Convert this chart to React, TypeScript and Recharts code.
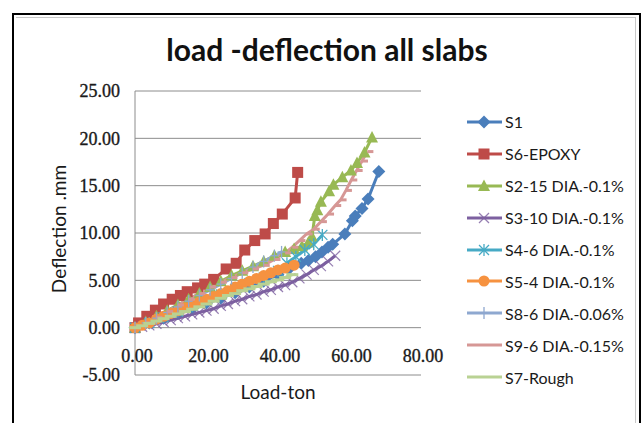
import React from 'react';
import { LineChart, Line, XAxis, YAxis, CartesianGrid, Legend } from 'recharts';

// ---- data (load in ton, deflection in mm) ----
const X_TICKS = [0, 20, 40, 60, 80];
const Y_TICKS = [-5, 0, 5, 10, 15, 20, 25];

const S1_LOAD = [0, 4, 8, 12, 16, 20, 24, 28, 32, 36, 40, 43, 46.5, 48.5, 50.5, 52.3, 54, 55.3, 58.7, 60.8, 61.6, 63.5, 65.2, 68.2];
const S1_DEFL = [0, 0.5, 1.0, 1.5, 2.0, 2.6, 3.1, 3.7, 4.3, 4.9, 5.6, 6.2, 6.8, 7.1, 7.5, 8.0, 8.5, 8.8, 9.9, 11.3, 11.8, 12.6, 13.6, 16.5];

const S6_LOAD = [0, 1, 3.3, 5.7, 8, 10.4, 12.7, 14.6, 17.5, 19.5, 22, 25.5, 28.3, 30.7, 33.5, 36.4, 38.7, 41.2, 44.8, 45.5];
const S6_DEFL = [0, 0.5, 1.2, 1.85, 2.5, 3.0, 3.4, 3.8, 4.2, 4.6, 5.1, 6.2, 6.8, 8.2, 9.2, 9.9, 11.0, 12.0, 13.7, 16.4];

const S2_LOAD = [0, 3, 6, 9, 12, 15, 18, 21, 24, 27, 30, 33, 36, 39, 42, 44.5, 46.7, 48.5, 49.5, 50.3, 51, 52, 54.3, 55.5, 58, 60.4, 62.1, 64.2, 66.3];
const S2_DEFL = [0, 0.6, 1.2, 1.8, 2.4, 3.0, 3.6, 4.3, 4.9, 5.5, 6.0, 6.5, 7.0, 7.6, 8.0, 8.3, 8.6, 9.0, 9.6, 11.8, 12.4, 13.3, 14.4, 15.1, 15.9, 16.6, 17.4, 18.5, 20.1];

const S3_LOAD = [0, 2, 4, 6, 8, 10, 12, 14, 16, 18, 20, 22, 24, 26, 28, 30, 32, 34, 36, 38, 40, 42, 44, 46, 48, 50, 52, 54, 56];
const S3_DEFL = [0, 0.1, 0.25, 0.4, 0.6, 0.8, 1.0, 1.2, 1.4, 1.6, 1.8, 2.0, 2.3, 2.5, 2.8, 3.0, 3.3, 3.5, 3.8, 4.0, 4.3, 4.5, 4.8, 5.2, 5.6, 6.1, 6.5, 7.0, 7.6];

const S4_LOAD = [0, 4, 8, 12, 16, 20, 24, 28, 32, 36, 40, 42.5, 45, 47.5, 50, 52.4];
const S4_DEFL = [0, 0.5, 1.1, 1.7, 2.3, 2.9, 3.5, 4.1, 4.7, 5.3, 6.0, 6.8, 7.5, 8.2, 8.8, 9.8];

const S5_LOAD = [0, 2, 4, 6, 8, 10, 12, 14, 16, 18, 20, 22, 24, 26, 28, 30, 32, 34, 36, 38, 40, 42, 44.5];
const S5_DEFL = [0, 0.25, 0.5, 0.9, 1.2, 1.5, 1.8, 2.1, 2.4, 2.7, 3.0, 3.3, 3.6, 3.9, 4.3, 4.6, 4.9, 5.2, 5.5, 5.8, 6.1, 6.3, 6.6];

const S8_LOAD = [0, 3, 6, 9, 12, 15, 18, 21, 24, 27, 30, 33, 36, 39, 41];
const S8_DEFL = [0, 0.5, 1.0, 1.6, 2.2, 2.8, 3.4, 4.0, 4.6, 5.2, 5.8, 6.4, 7.0, 7.6, 8.0];

const S9_LOAD = [0, 3, 6, 9, 12, 15, 18, 21, 24, 27, 30, 33, 36, 39, 42, 44, 46, 48, 50, 52, 54, 56, 57.5, 59, 60.5, 62, 63.5, 65];
const S9_DEFL = [0, 0.5, 1.1, 1.7, 2.4, 3.0, 3.6, 4.3, 4.8, 5.3, 5.8, 6.2, 6.6, 7.2, 7.9, 8.5, 9.2, 9.9, 10.4, 11.2, 12.0, 12.9, 13.5, 14.5, 15.6, 16.6, 17.6, 18.6];

const S7_LOAD = [0, 2, 4, 6, 8, 10, 12, 14, 16, 18, 20, 22, 24, 26, 28, 30, 32, 34, 36, 38, 40, 42, 44];
const S7_DEFL = [0, 0.2, 0.45, 0.7, 0.95, 1.2, 1.45, 1.7, 1.95, 2.2, 2.5, 2.8, 3.1, 3.4, 3.6, 3.9, 4.1, 4.35, 4.6, 4.85, 5.05, 5.3, 5.6];

type Shape = 'diamond' | 'square' | 'triangle' | 'x' | 'star' | 'circle' | 'plus' | 'dash' | 'longdash';

const zip = (xs: number[], ys: number[]) => xs.map((x, i) => ({ x, y: ys[i] }));

const SERIES: { name: string; color: string; shape: Shape; data: { x: number; y: number }[] }[] = [
  { name: 'S1', color: '#4A7EBB', shape: 'diamond', data: zip(S1_LOAD, S1_DEFL) },
  { name: 'S6-EPOXY', color: '#BE4B48', shape: 'square', data: zip(S6_LOAD, S6_DEFL) },
  { name: 'S2-15 DIA.-0.1%', color: '#98B954', shape: 'triangle', data: zip(S2_LOAD, S2_DEFL) },
  { name: 'S3-10 DIA.-0.1%', color: '#7D60A0', shape: 'x', data: zip(S3_LOAD, S3_DEFL) },
  { name: 'S4-6 DIA.-0.1%', color: '#46AAC5', shape: 'star', data: zip(S4_LOAD, S4_DEFL) },
  { name: 'S5-4 DIA.-0.1%', color: '#F69240', shape: 'circle', data: zip(S5_LOAD, S5_DEFL) },
  { name: 'S8-6 DIA.-0.06%', color: '#8EA8D0', shape: 'plus', data: zip(S8_LOAD, S8_DEFL) },
  { name: 'S9-6 DIA.-0.15%', color: '#D69795', shape: 'dash', data: zip(S9_LOAD, S9_DEFL) },
  { name: 'S7-Rough', color: '#B9D293', shape: 'longdash', data: zip(S7_LOAD, S7_DEFL) },
];

function Marker({ shape, color, cx, cy }: { shape: Shape; color: string; cx: number; cy: number }) {
  switch (shape) {
    case 'diamond':
      return <path d={`M${cx},${cy - 6.5}L${cx + 6.5},${cy}L${cx},${cy + 6.5}L${cx - 6.5},${cy}Z`} fill={color} />;
    case 'square':
      return <rect x={cx - 5.5} y={cy - 5.5} width={11} height={11} fill={color} />;
    case 'triangle':
      return <path d={`M${cx},${cy - 6.5}L${cx + 6},${cy + 5}L${cx - 6},${cy + 5}Z`} fill={color} />;
    case 'x':
      return (
        <g stroke={color} strokeWidth={1.2} opacity={0.8}>
          <line x1={cx - 5} y1={cy - 5} x2={cx + 5} y2={cy + 5} />
          <line x1={cx - 5} y1={cy + 5} x2={cx + 5} y2={cy - 5} />
        </g>
      );
    case 'star':
      return (
        <g stroke={color} strokeWidth={1.3}>
          <line x1={cx - 5} y1={cy - 5} x2={cx + 5} y2={cy + 5} />
          <line x1={cx - 5} y1={cy + 5} x2={cx + 5} y2={cy - 5} />
          <line x1={cx} y1={cy - 6} x2={cx} y2={cy + 6} />
        </g>
      );
    case 'circle':
      return <circle cx={cx} cy={cy} r={5.5} fill={color} />;
    case 'plus':
      return (
        <g stroke={color} strokeWidth={1.3}>
          <line x1={cx} y1={cy - 6} x2={cx} y2={cy + 6} />
          <line x1={cx - 4} y1={cy} x2={cx + 4} y2={cy} />
        </g>
      );
    case 'dash':
      return <line x1={cx} y1={cy} x2={cx + 6} y2={cy} stroke={color} strokeWidth={3} />;
    case 'longdash':
      return <line x1={cx - 6} y1={cy} x2={cx + 6} y2={cy} stroke={color} strokeWidth={3} />;
  }
  return null;
}

const makeDot = (shape: Shape, color: string) => (p: any) => (
  <Marker key={`${shape}-${p.index}`} shape={shape} color={color} cx={p.cx} cy={p.cy} />
);

const TICK_STYLE = { fontFamily: "'Liberation Serif', serif", fontSize: 18, fill: '#1a1a1a', stroke: '#1a1a1a', strokeWidth: 0.35 };

const XTick = (p: any) => (
  <text x={p.x + 2} y={p.y - 21} textAnchor="middle" style={TICK_STYLE}>
    {Number(p.payload.value).toFixed(2)}
  </text>
);

const YTick = (p: any) => (
  <text x={p.x - 7} y={p.y} dy="0.35em" textAnchor="end" style={TICK_STYLE}>
    {Number(p.payload.value).toFixed(2)}
  </text>
);

const LegendBox = () => (
  <div style={{ fontFamily: 'Lato, sans-serif', fontSize: 16, color: '#1a1a1a' }}>
    {SERIES.map((s) => (
      <div key={s.name} style={{ display: 'flex', alignItems: 'center', height: 31.9, whiteSpace: 'nowrap' }}>
        <svg width={37} height={16} style={{ display: 'block' }}>
          <line x1={1} y1={8} x2={36} y2={8} stroke={s.color} strokeWidth={3} />
          {s.shape !== 'dash' && s.shape !== 'longdash' ? <Marker shape={s.shape} color={s.color} cx={18} cy={8} /> : null}
        </svg>
        <span style={{ marginLeft: 2 }}>{s.name}</span>
      </div>
    ))}
  </div>
);

export default function App() {
  return (
    <div style={{ position: 'absolute', left: 0, top: 0, width: 643, height: 423, background: '#fff', overflow: 'hidden' }}>
      <div style={{ position: 'absolute', left: 12, top: 13, width: 625, height: 440, border: '2px solid #000' }} />
      <div style={{ position: 'absolute', left: 16, top: 17, width: 619, height: 440, borderTop: '1px solid #c8c8c8', borderRight: '1px solid #c8c8c8' }} />
      <div
        style={{
          position: 'absolute', left: 0, width: 654, top: 32, textAlign: 'center',
          fontFamily: 'Lato, sans-serif', fontWeight: 700, fontSize: 30, color: '#111', lineHeight: '34px',
        }}
      >
        load -deflection all slabs
      </div>
      <div style={{ position: 'absolute', left: 0, top: 0 }}>
        <LineChart width={643} height={423} margin={{ top: 91, right: 52, bottom: 18, left: 55 }}>
          <CartesianGrid vertical={false} stroke="#8c8c8c" />
          <XAxis
            type="number"
            dataKey="x"
            domain={[0, 80]}
            ticks={X_TICKS}
            axisLine={false}
            tickLine={false}
            height={30}
            tick={<XTick />}
            label={{ value: 'Load-ton', position: 'center', dy: 2, style: { fontFamily: 'Lato, sans-serif', fontSize: 19, fill: '#1a1a1a' } }}
          />
          <YAxis
            type="number"
            domain={[-5, 25]}
            ticks={Y_TICKS}
            axisLine={{ stroke: '#8c8c8c' }}
            tickLine={false}
            width={80}
            tick={<YTick />}
            label={(props: any) => {
              const vb = props.viewBox || { x: 55, y: 91, height: 284 };
              const cx = vb.x + 3;
              const cy = vb.y + vb.height / 2 - 4;
              return (
                <text x={cx} y={cy} transform={`rotate(-90, ${cx}, ${cy})`} textAnchor="middle" dominantBaseline="central"
                  fontFamily="Lato, sans-serif" fontSize={19} fill="#1a1a1a">
                  Deflection .mm
                </text>
              );
            }}
          />
          <Legend
            layout="vertical"
            align="right"
            verticalAlign="top"
            content={() => <LegendBox />}
            wrapperStyle={{ width: 170, left: 466, top: 106, right: undefined }}
          />
          {SERIES.map((s) => (
            <Line
              key={s.name}
              data={s.data}
              dataKey="y"
              name={s.name}
              type="linear"
              stroke={s.color}
              strokeWidth={3}
              dot={makeDot(s.shape, s.color)}
              activeDot={false}
              isAnimationActive={false}
            />
          ))}
        </LineChart>
      </div>
    </div>
  );
}
